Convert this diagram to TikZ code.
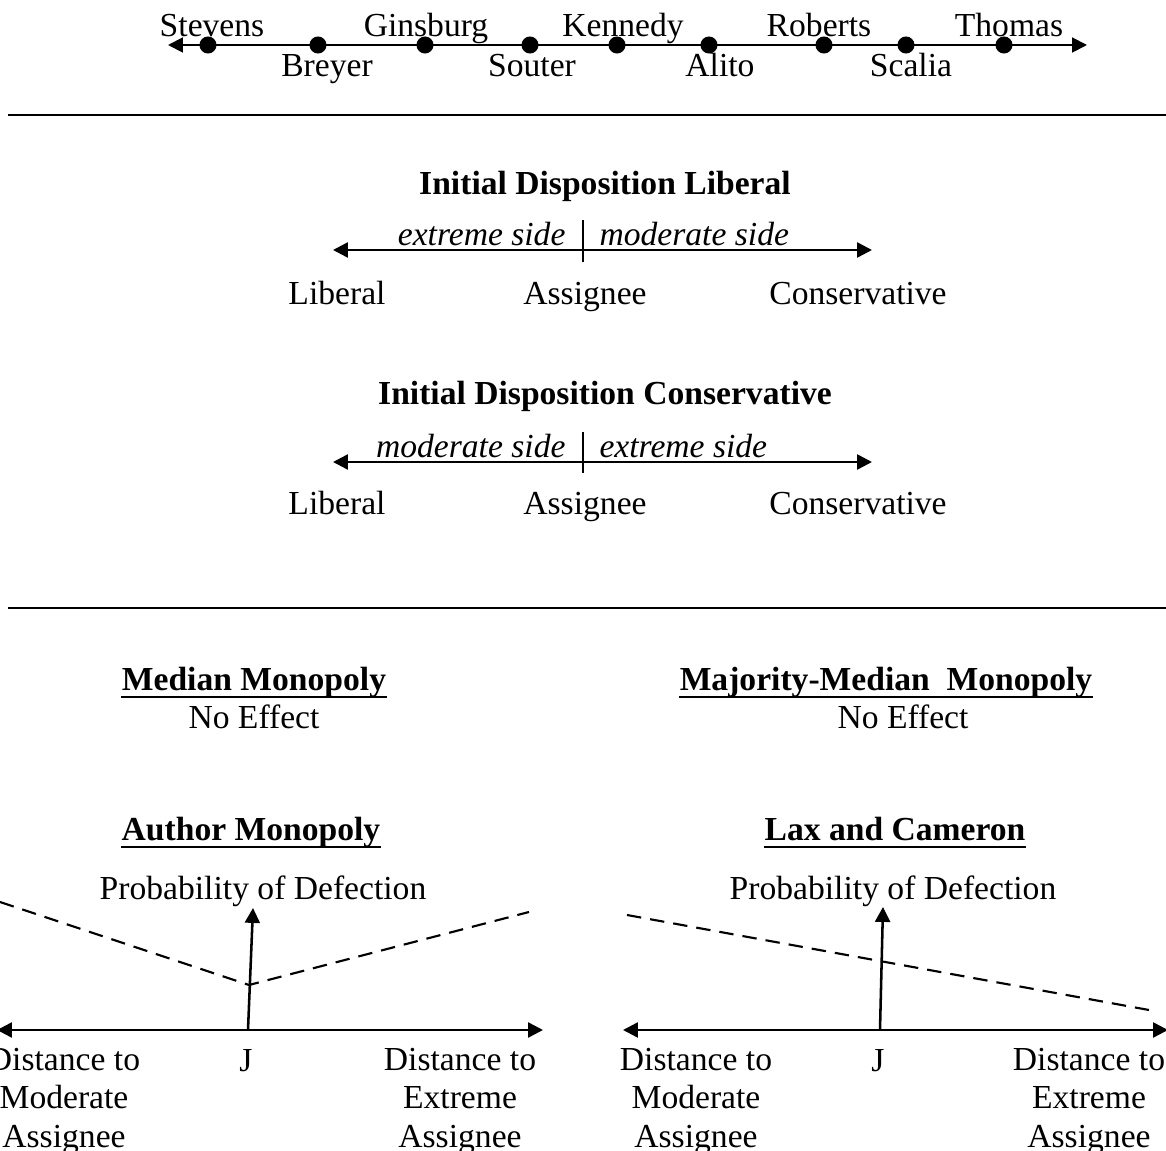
\documentclass[tikz,border=0pt]{standalone}
\usepackage{fontspec}
\setmainfont{Liberation Serif}
\usetikzlibrary{arrows.meta,positioning}

\newcommand{\sz}{\fontsize{12.6}{14.3}\selectfont}

\tikzset{
  >={Triangle[length=5.6pt,width=5.6pt]},
  txt/.style={inner sep=0pt, font=\sz},
  bold/.style={inner sep=0pt, font=\sz\bfseries},
  ital/.style={inner sep=0pt, font=\sz\itshape},
  head/.style={bold, text depth=0.22em},
  dot/.style={circle, fill, inner sep=0pt, minimum size=6.4pt},
  thin/.style={line width=0.75pt},
  gr/.style={line width=0.95pt},
  dsh/.style={line width=0.8pt, dash pattern=on 5.4pt off 3.4pt}
}

\begin{document}
\begin{tikzpicture}[x=0.375pt, y=-0.375pt]
  \useasboundingbox (0,0) rectangle (1166,1151);

  % justices
  \coordinate (tl) at (168,45);
  \coordinate (tr) at (1087,45);
  \draw[thin, <->] (tl) -- (tr);
  \node[dot] (stevens) at (208,45) {};
  \node[dot] (breyer) at (318,45) {};
  \node[dot] (ginsburg) at (425,45) {};
  \node[dot] (souter) at (530,45) {};
  \node[dot] (kennedy) at (617,45) {};
  \node[dot] (alito) at (709,45) {};
  \node[dot] (roberts) at (824,45) {};
  \node[dot] (scalia) at (906,45) {};
  \node[dot] (thomas) at (1004,45) {};
  \node[txt, anchor=base] (stevensl) at (212,37) {Stevens};
  \node[txt, anchor=base] (breyerl) at (327,77) {Breyer};
  \node[txt, anchor=base] (ginsburgl) at (426,37) {Ginsburg};
  \node[txt, anchor=base] (souterl) at (532,77) {Souter};
  \node[txt, anchor=base] (kennedyl) at (623,37) {Kennedy};
  \node[txt, anchor=base] (alitol) at (720,77) {Alito};
  \node[txt, anchor=base] (robertsl) at (819,37) {Roberts};
  \node[txt, anchor=base] (scalial) at (911,77) {Scalia};
  \node[txt, anchor=base] (thomasl) at (1009,37) {Thomas};

  \coordinate (sepa) at (8,115);
  \coordinate (sepb) at (1166,115);
  \draw[line width=0.85pt] (sepa) -- (sepb);

  % initial disposition liberal
  \node[bold, anchor=base] (libtitle) at (605,195) {Initial Disposition Liberal};
  \coordinate (ll) at (333,250);
  \coordinate (lr) at (872,250);
  \draw[gr, <->] (ll) -- (lr);
  \coordinate (lta) at (583,220);
  \coordinate (ltb) at (583,262);
  \draw[gr] (lta) -- (ltb);
  \node[ital, anchor=base east] (lext) at (566,246) {extreme side};
  \node[ital, anchor=base west] (lmod) at (599,246) {moderate side};
  \node[txt, anchor=base] (llib) at (337,305) {Liberal};
  \node[txt, anchor=base] (lass) at (585,305) {Assignee};
  \node[txt, anchor=base] (lcon) at (858,305) {Conservative};

  % initial disposition conservative
  \node[bold, anchor=base] (contitle) at (605,405) {Initial Disposition Conservative};
  \coordinate (cl) at (333,462);
  \coordinate (cr) at (872,462);
  \draw[gr, <->] (cl) -- (cr);
  \coordinate (cta) at (583,432);
  \coordinate (ctb) at (583,473);
  \draw[gr] (cta) -- (ctb);
  \node[ital, anchor=base east] (cmod) at (566,458) {moderate side};
  \node[ital, anchor=base west] (cext) at (599,458) {extreme side};
  \node[txt, anchor=base] (clib) at (337,515) {Liberal};
  \node[txt, anchor=base] (cass) at (585,515) {Assignee};
  \node[txt, anchor=base] (ccon) at (858,515) {Conservative};

  \coordinate (sepc) at (8,608);
  \coordinate (sepd) at (1166,608);
  \draw[line width=0.85pt] (sepc) -- (sepd);

  % monopolies
  \node[head, anchor=base] (medmono) at (254,691) {Median Monopoly};
  \draw[thin] (medmono.south west) -- (medmono.south east);
  \node[txt, anchor=base] (medeff) at (254,729) {No Effect};
  \node[head, anchor=base] (majmono) at (886,691) {Majority-Median\ \ Monopoly};
  \draw[thin] (majmono.south west) -- (majmono.south east);
  \node[txt, anchor=base] (majeff) at (903,729) {No Effect};

  \node[head, anchor=base] (authmono) at (251,841) {Author Monopoly};
  \draw[thin] (authmono.south west) -- (authmono.south east);
  \node[head, anchor=base] (laxcam) at (895,841) {Lax and Cameron};
  \draw[thin] (laxcam.south west) -- (laxcam.south east);

  % author monopoly graph
  \node[txt, anchor=base] (aprob) at (263,900) {Probability of Defection};
  \coordinate (axl) at (-3,1030);
  \coordinate (axr) at (543,1030);
  \draw[gr, <->] (axl) -- (axr);
  \coordinate (aj) at (248,1030);
  \coordinate (ap) at (253,908);
  \draw[gr, ->] (aj) -- (ap);
  \coordinate (ada) at (0,902);
  \coordinate (adb) at (249,985);
  \coordinate (adc) at (529,912);
  \draw[dsh] (ada) -- (adb) -- (adc);
  \node[txt, anchor=base] (ajl) at (246,1071) {J};
  \node[txt, align=center, anchor=base] (amod) at (64,1147) {Distance to\\Moderate\\Assignee};
  \node[txt, align=center, anchor=base] (aext) at (460,1147) {Distance to\\Extreme\\Assignee};

  % lax and cameron graph
  \node[txt, anchor=base] (xprob) at (893,900) {Probability of Defection};
  \coordinate (bxl) at (623,1030);
  \coordinate (bxr) at (1168,1030);
  \draw[gr, <->] (bxl) -- (bxr);
  \coordinate (bj) at (880,1030);
  \coordinate (bp) at (883,907);
  \draw[gr, ->] (bj) -- (bp);
  \coordinate (bda) at (627,915);
  \coordinate (bdb) at (1149,1010);
  \draw[dsh] (bda) -- (bdb);
  \node[txt, anchor=base] (bjl) at (878,1071) {J};
  \node[txt, align=center, anchor=base] (bmod) at (696,1147) {Distance to\\Moderate\\Assignee};
  \node[txt, align=center, anchor=base] (bext) at (1089,1147) {Distance to\\Extreme\\Assignee};
\end{tikzpicture}
\end{document}
